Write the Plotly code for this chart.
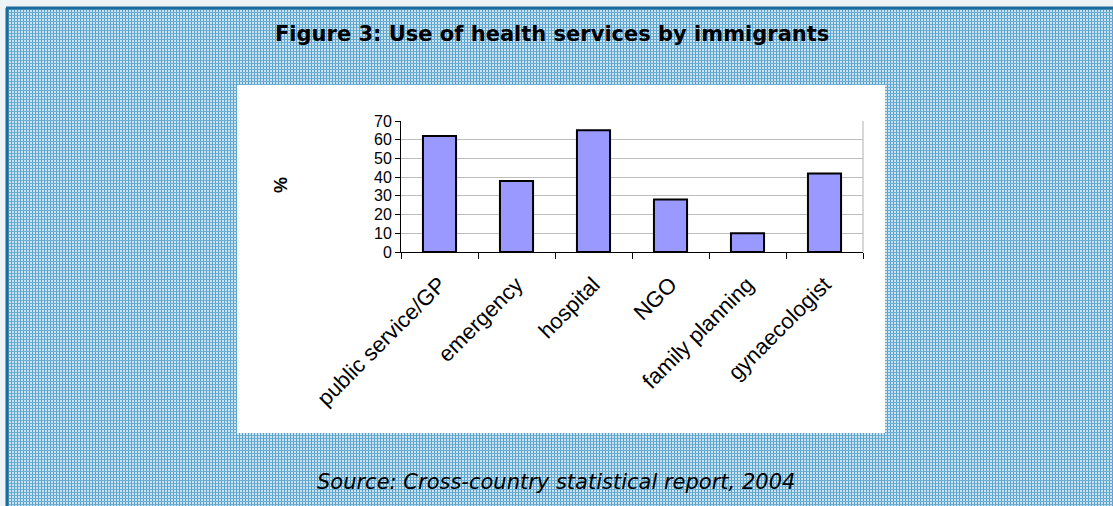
import base64
import plotly.graph_objects as go

categories = ["public service/GP", "emergency", "hospital", "NGO", "family planning", "gynaecologist"]
values = [62, 38, 65, 28, 10, 42]
y_ticks = [0, 10, 20, 30, 40, 50, 60, 70]
title_text = "Figure 3: Use of health services by immigrants"
source_text = "Source: Cross-country statistical report, 2004"
y_label = "%"

W, H = 1113, 506
L, R, T, B = 401, 863, 121, 252  # plot area in pixels


def xp(px):
    return (px - L) / (R - L)


def yp(py):
    return (B - py) / (B - T)


svg = (
    '<svg xmlns="http://www.w3.org/2000/svg" width="1105" height="497">'
    '<defs><pattern id="p" width="3" height="3" patternUnits="userSpaceOnUse">'
    '<rect width="3" height="3" fill="#cce2ef"/>'
    '<rect width="1" height="3" fill="#55a1cc"/>'
    '<rect width="3" height="1" fill="#6aaed4"/>'
    '</pattern></defs>'
    '<rect width="100%" height="100%" fill="url(#p)"/></svg>'
)
src = "data:image/svg+xml;base64," + base64.b64encode(svg.encode()).decode()

fig = go.Figure(
    go.Bar(
        x=categories,
        y=values,
        width=0.43,
        marker=dict(color="#9999ff", line=dict(color="black", width=2)),
        hoverinfo="x+y",
    )
)

fig.update_layout(
    width=W,
    height=H,
    margin=dict(l=L, r=W - R, t=T, b=H - B, pad=0),
    paper_bgcolor="#eef3f6",
    plot_bgcolor="rgba(0,0,0,0)",
    showlegend=False,
    font=dict(family="Liberation Sans, Arial, sans-serif", color="black"),
    images=[
        dict(
            source=src,
            xref="paper", yref="paper",
            x=xp(8), y=yp(9),
            sizex=xp(1113) - xp(8), sizey=yp(9) - yp(506),
            sizing="stretch",
            xanchor="left", yanchor="top",
            layer="below",
        )
    ],
    shapes=[
        dict(type="rect", xref="paper", yref="paper",
             x0=xp(237), x1=xp(885), y0=yp(433), y1=yp(85),
             fillcolor="white", line=dict(width=0), layer="below"),
        dict(type="line", xref="paper", yref="paper",
             x0=xp(7), x1=xp(7), y0=yp(8), y1=yp(506),
             line=dict(color="#1b6b9c", width=3)),
        dict(type="line", xref="paper", yref="paper",
             x0=xp(6), x1=xp(1113), y0=yp(8), y1=yp(8),
             line=dict(color="#1b6b9c", width=3)),
        dict(type="line", xref="paper", yref="paper",
             x0=1, x1=1, y0=0, y1=1,
             line=dict(color="#b0b0b0", width=1), layer="below"),
    ],
    annotations=[
        dict(text="<b>" + title_text + "</b>", xref="paper", yref="paper",
             x=xp(552), y=yp(34), xanchor="center", yanchor="middle", showarrow=False,
             font=dict(family="DejaVu Sans", size=21, color="black")),
        dict(text="<i>" + source_text + "</i>", xref="paper", yref="paper",
             x=xp(556), y=yp(482), xanchor="center", yanchor="middle", showarrow=False,
             font=dict(family="DejaVu Sans", size=21, color="black")),
        dict(text="<b>" + y_label + "</b>", xref="paper", yref="paper",
             x=xp(281), y=yp(185), xanchor="center", yanchor="middle",
             showarrow=False, textangle=-90,
             font=dict(family="Liberation Sans, Arial", size=18, color="black")),
    ],
)

fig.update_xaxes(
    type="category",
    tickson="boundaries",
    ticks="outside",
    ticklen=6,
    tickcolor="black",
    showline=True,
    linecolor="black",
    linewidth=1,
    showgrid=False,
    tickangle=-45,
    ticklabelstandoff=10,
    tickfont=dict(size=22, family="Liberation Sans, Arial"),
)
fig.update_yaxes(
    range=[0, 70],
    tickvals=y_ticks,
    ticks="outside",
    ticklen=5,
    tickcolor="black",
    showline=True,
    linecolor="black",
    linewidth=1,
    showgrid=True,
    gridcolor="#bdbdbd",
    gridwidth=1,
    zeroline=False,
    tickfont=dict(size=16, family="Liberation Sans, Arial"),
)

fig.write_html("out.html", config={"displayModeBar": False},
               post_script="document.body.style.margin='0';")
